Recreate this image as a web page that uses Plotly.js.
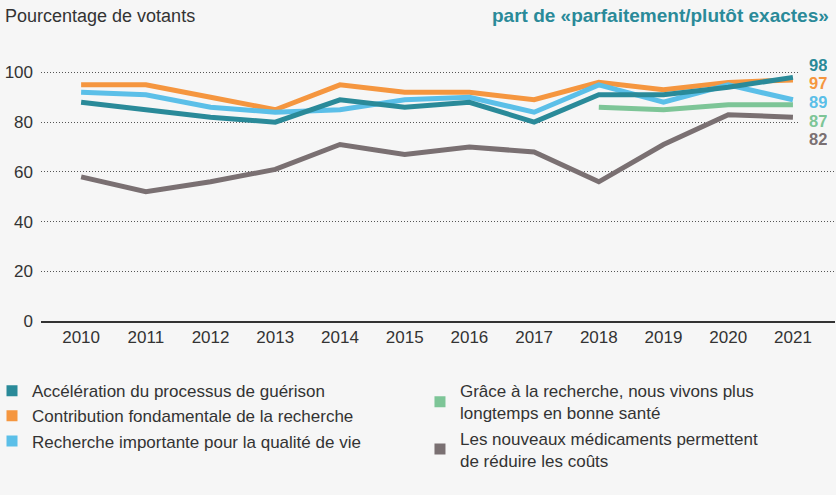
<!DOCTYPE html>
<html>
<head>
<meta charset="utf-8">
<script src="https://cdn.plot.ly/plotly-3.0.1.min.js"></script>
<style>
html,body{margin:0;padding:0;background:#f6f6f6;}
#chart{width:836px;height:495px;}
</style>
</head>
<body>
<div id="chart"></div>
<script>
const years = [2010, 2011, 2012, 2013, 2014, 2015, 2016, 2017, 2018, 2019, 2020, 2021];
const acceleration = [88, 85, 82, 80, 89, 86, 88, 80, 91, 91, 94, 98];
const contribution = [95, 95, 90, 85, 95, 92, 92, 89, 96, 93, 96, 97];
const qualiteVie = [92, 91, 86, 84, 85, 89, 90, 84, 95, 88, 95, 89];
const vivonsPlus = [null, null, null, null, null, null, null, null, 86, 85, 87, 87];
const coutsReduits = [58, 52, 56, 61, 71, 67, 70, 68, 56, 71, 83, 82];
const seriesNames = [
  "Accélération du processus de guérison",
  "Contribution fondamentale de la recherche",
  "Recherche importante pour la qualité de vie",
  "Grâce à la recherche, nous vivons plus<br>longtemps en bonne santé",
  "Les nouveaux médicaments permettent<br>de réduire les coûts"
];
const yTicks = [0, 20, 40, 60, 80, 100];

const colors = ["#2a8a99", "#f5963f", "#5bbfe8", "#7dc597", "#7a7072"];
const seriesData = [acceleration, contribution, qualiteVie, vivonsPlus, coutsReduits];
const drawOrder = [4, 3, 1, 2, 0];
const labelY = [103.3, 95.8, 88.4, 80.8, 73.5];
const legendOf = ["legend", "legend", "legend", "legend2", "legend2"];

const font = "'Liberation Sans', Arial, sans-serif";
const traces = [];
drawOrder.forEach(i => {
  traces.push({
    x: years, y: seriesData[i], type: "scatter", mode: "lines",
    line: {color: colors[i], width: 5}, showlegend: false, hoverinfo: "skip",
    connectgaps: false
  });
});
[0,1,2,3,4].forEach(i => {
  traces.push({
    x: [null], y: [null], type: "scatter", mode: "markers",
    name: seriesNames[i], legend: legendOf[i],
    marker: {symbol: "square", size: 11, color: colors[i]}
  });
});

const annotations = [0,1,2,3,4].map(i => {
  const d = seriesData[i];
  return {
    x: years[years.length-1], y: labelY[i], xref: "x", yref: "y",
    text: "<b>" + d[d.length-1] + "</b>", showarrow: false,
    xanchor: "left", yanchor: "middle", xshift: 14, height: 15,
    font: {family: font, size: 16.5, color: colors[i]}
  };
});
annotations.push({
  xref: "paper", yref: "paper", x: 1, y: 1.17, xanchor: "right", yanchor: "middle", xshift: -4,
  text: "<b>part de «parfaitement/plutôt exactes»</b>", showarrow: false,
  font: {family: font, size: 19, color: "#2a8a99"}
});

const layout = {
  width: 836, height: 495,
  paper_bgcolor: "#f6f6f6", plot_bgcolor: "#f6f6f6",
  margin: {l: 41, r: 1, t: 59.5, b: 174, autoexpand: false},
  title: {text: "Pourcentage de votants", xref: "container", yref: "container",
    x: 5/836, xanchor: "left", y: 1 - 16/495, yanchor: "middle",
    font: {family: font, size: 18, color: "#333"}},
  xaxis: {range: [2009.38, 2021.65], tickvals: years, ticktext: years.map(String),
    showgrid: false, zeroline: false, showline: true, linecolor: "#333", linewidth: 1.5,
    ticks: "", ticklabelstandoff: 0,
    tickfont: {family: font, size: 17, color: "#333"}, fixedrange: true},
  yaxis: {range: [0, 105], tickvals: yTicks, showgrid: true, gridcolor: "#555",
    griddash: "1px,2px", gridwidth: 1, zeroline: false, showline: false, ticks: "",
    ticklabelstandoff: 7,
    tickfont: {family: font, size: 17, color: "#333"}, fixedrange: true},
  shapes: [{type: "rect", xref: "x", yref: "y", x0: 2021.1, x1: 2021.7, y0: 75, y1: 104,
    fillcolor: "#f6f6f6", line: {width: 0}, layer: "between"}],
  legend: {x: -0.0617, xanchor: "left", y: -0.2, yanchor: "top", orientation: "v",
    bgcolor: "rgba(0,0,0,0)", tracegroupgap: 0, traceorder: "normal",
    font: {family: font, size: 17, color: "#333"}},
  legend2: {x: 0.4773, xanchor: "left", y: -0.2, yanchor: "top", orientation: "v",
    bgcolor: "rgba(0,0,0,0)", tracegroupgap: 0, traceorder: "normal",
    font: {family: font, size: 17, color: "#333"}},
  annotations: annotations,
  showlegend: true
};

Plotly.newPlot("chart", traces, layout, {displayModeBar: false, staticPlot: true});
</script>
</body>
</html>
